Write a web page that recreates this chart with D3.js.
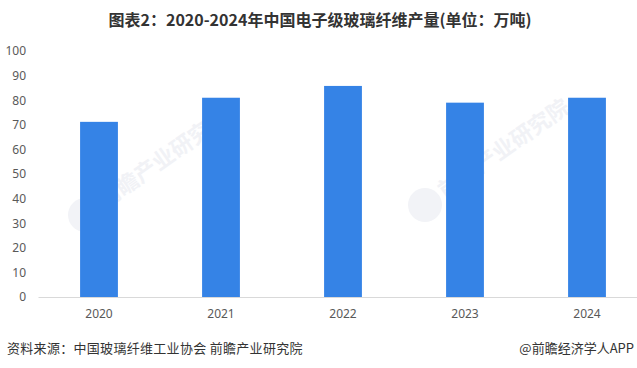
<!DOCTYPE html>
<html>
<head>
<meta charset="utf-8">
<script src="https://cdn.jsdelivr.net/npm/d3@7"></script>
<style>
    html, body { margin: 0; padding: 0; background: #fff; }
    svg { display: block; font-family: "Noto Sans CJK SC", "Noto Sans", sans-serif; }
</style>
</head>
<body>
<div id="chart"></div>
<script>
// 2020-2024 中国电子级玻璃纤维产量
const years = ["2020", "2021", "2022", "2023", "2024"];
const output = [71.2, 81, 85.8, 79, 81];
const yTicks = [0, 10, 20, 30, 40, 50, 60, 70, 80, 90, 100];

const width = 637;
const height = 368;
const margin = { top: 51, right: -11, bottom: 71, left: 38 };
const innerWidth = width - margin.left - margin.right;
const innerHeight = height - margin.top - margin.bottom;

const svg = d3.select("#chart").append("svg")
    .attr("width", width)
    .attr("height", height);

// title
svg.append("text")
    .attr("x", 320)
    .attr("y", 26)
    .attr("text-anchor", "middle")
    .attr("font-size", 16)
    .attr("font-weight", "bold")
    .attr("fill", "#333")
    .text("图表2：2020-2024年中国电子级玻璃纤维产量(单位：万吨)");

// faint watermarks
const marks = [[85, 215], [425, 205]];
marks.forEach(([wx, wy]) => {
    const g = svg.append("g").attr("transform", `translate(${wx},${wy})`);
    g.append("circle").attr("r", 17).attr("fill", "#f2f3f7");
    g.append("text")
        .attr("transform", "translate(20,-6) rotate(-35)")
        .attr("font-size", 22)
        .attr("font-weight", "bold")
        .attr("fill", "#f1f2f6")
        .text("前瞻产业研究院");
});

const root = svg.append("g")
    .attr("transform", `translate(${margin.left},${margin.top})`);

const x = d3.scaleBand()
    .domain(years)
    .range([0, innerWidth])
    .paddingInner(0.69)
    .paddingOuter(0.345);

const y = d3.scaleLinear()
    .domain([0, 100])
    .range([innerHeight, 0]);

// y axis labels (no line)
const yAxis = root.append("g")
    .call(d3.axisLeft(y).tickValues(yTicks).tickSize(0).tickPadding(0));
yAxis.select(".domain").remove();
yAxis.selectAll("text")
    .attr("x", -12)
    .attr("text-anchor", "end")
    .attr("font-size", 12)
    .attr("font-family", "\"Noto Sans\", sans-serif")
    .attr("fill", "#595959");

// bars
root.selectAll("rect.bar")
    .data(years.map((yr, i) => ({ yr, v: output[i] })))
    .join("rect")
    .attr("class", "bar")
    .attr("x", d => x(d.yr))
    .attr("y", d => y(d.v))
    .attr("width", x.bandwidth())
    .attr("height", d => innerHeight - y(d.v))
    .attr("fill", "#3583e6");

// x axis
const xAxis = root.append("g")
    .attr("transform", `translate(0,${innerHeight})`)
    .call(d3.axisBottom(x).tickSize(0).tickPadding(12));
xAxis.select(".domain")
    .attr("stroke", "#d9d9d9")
    .attr("stroke-width", 1);
xAxis.selectAll("text")
    .attr("font-size", 12)
    .attr("font-family", "\"Noto Sans\", sans-serif")
    .attr("fill", "#595959");

// footer
svg.append("text")
    .attr("x", 7)
    .attr("y", 353)
    .attr("font-size", 13)
    .attr("letter-spacing", 0.3)
    .attr("fill", "#333")
    .text("资料来源：中国玻璃纤维工业协会 前瞻产业研究院");

svg.append("text")
    .attr("x", 634)
    .attr("y", 353)
    .attr("text-anchor", "end")
    .attr("font-size", 13)
    .attr("fill", "#333")
    .text("@前瞻经济学人APP");
</script>
</body>
</html>
